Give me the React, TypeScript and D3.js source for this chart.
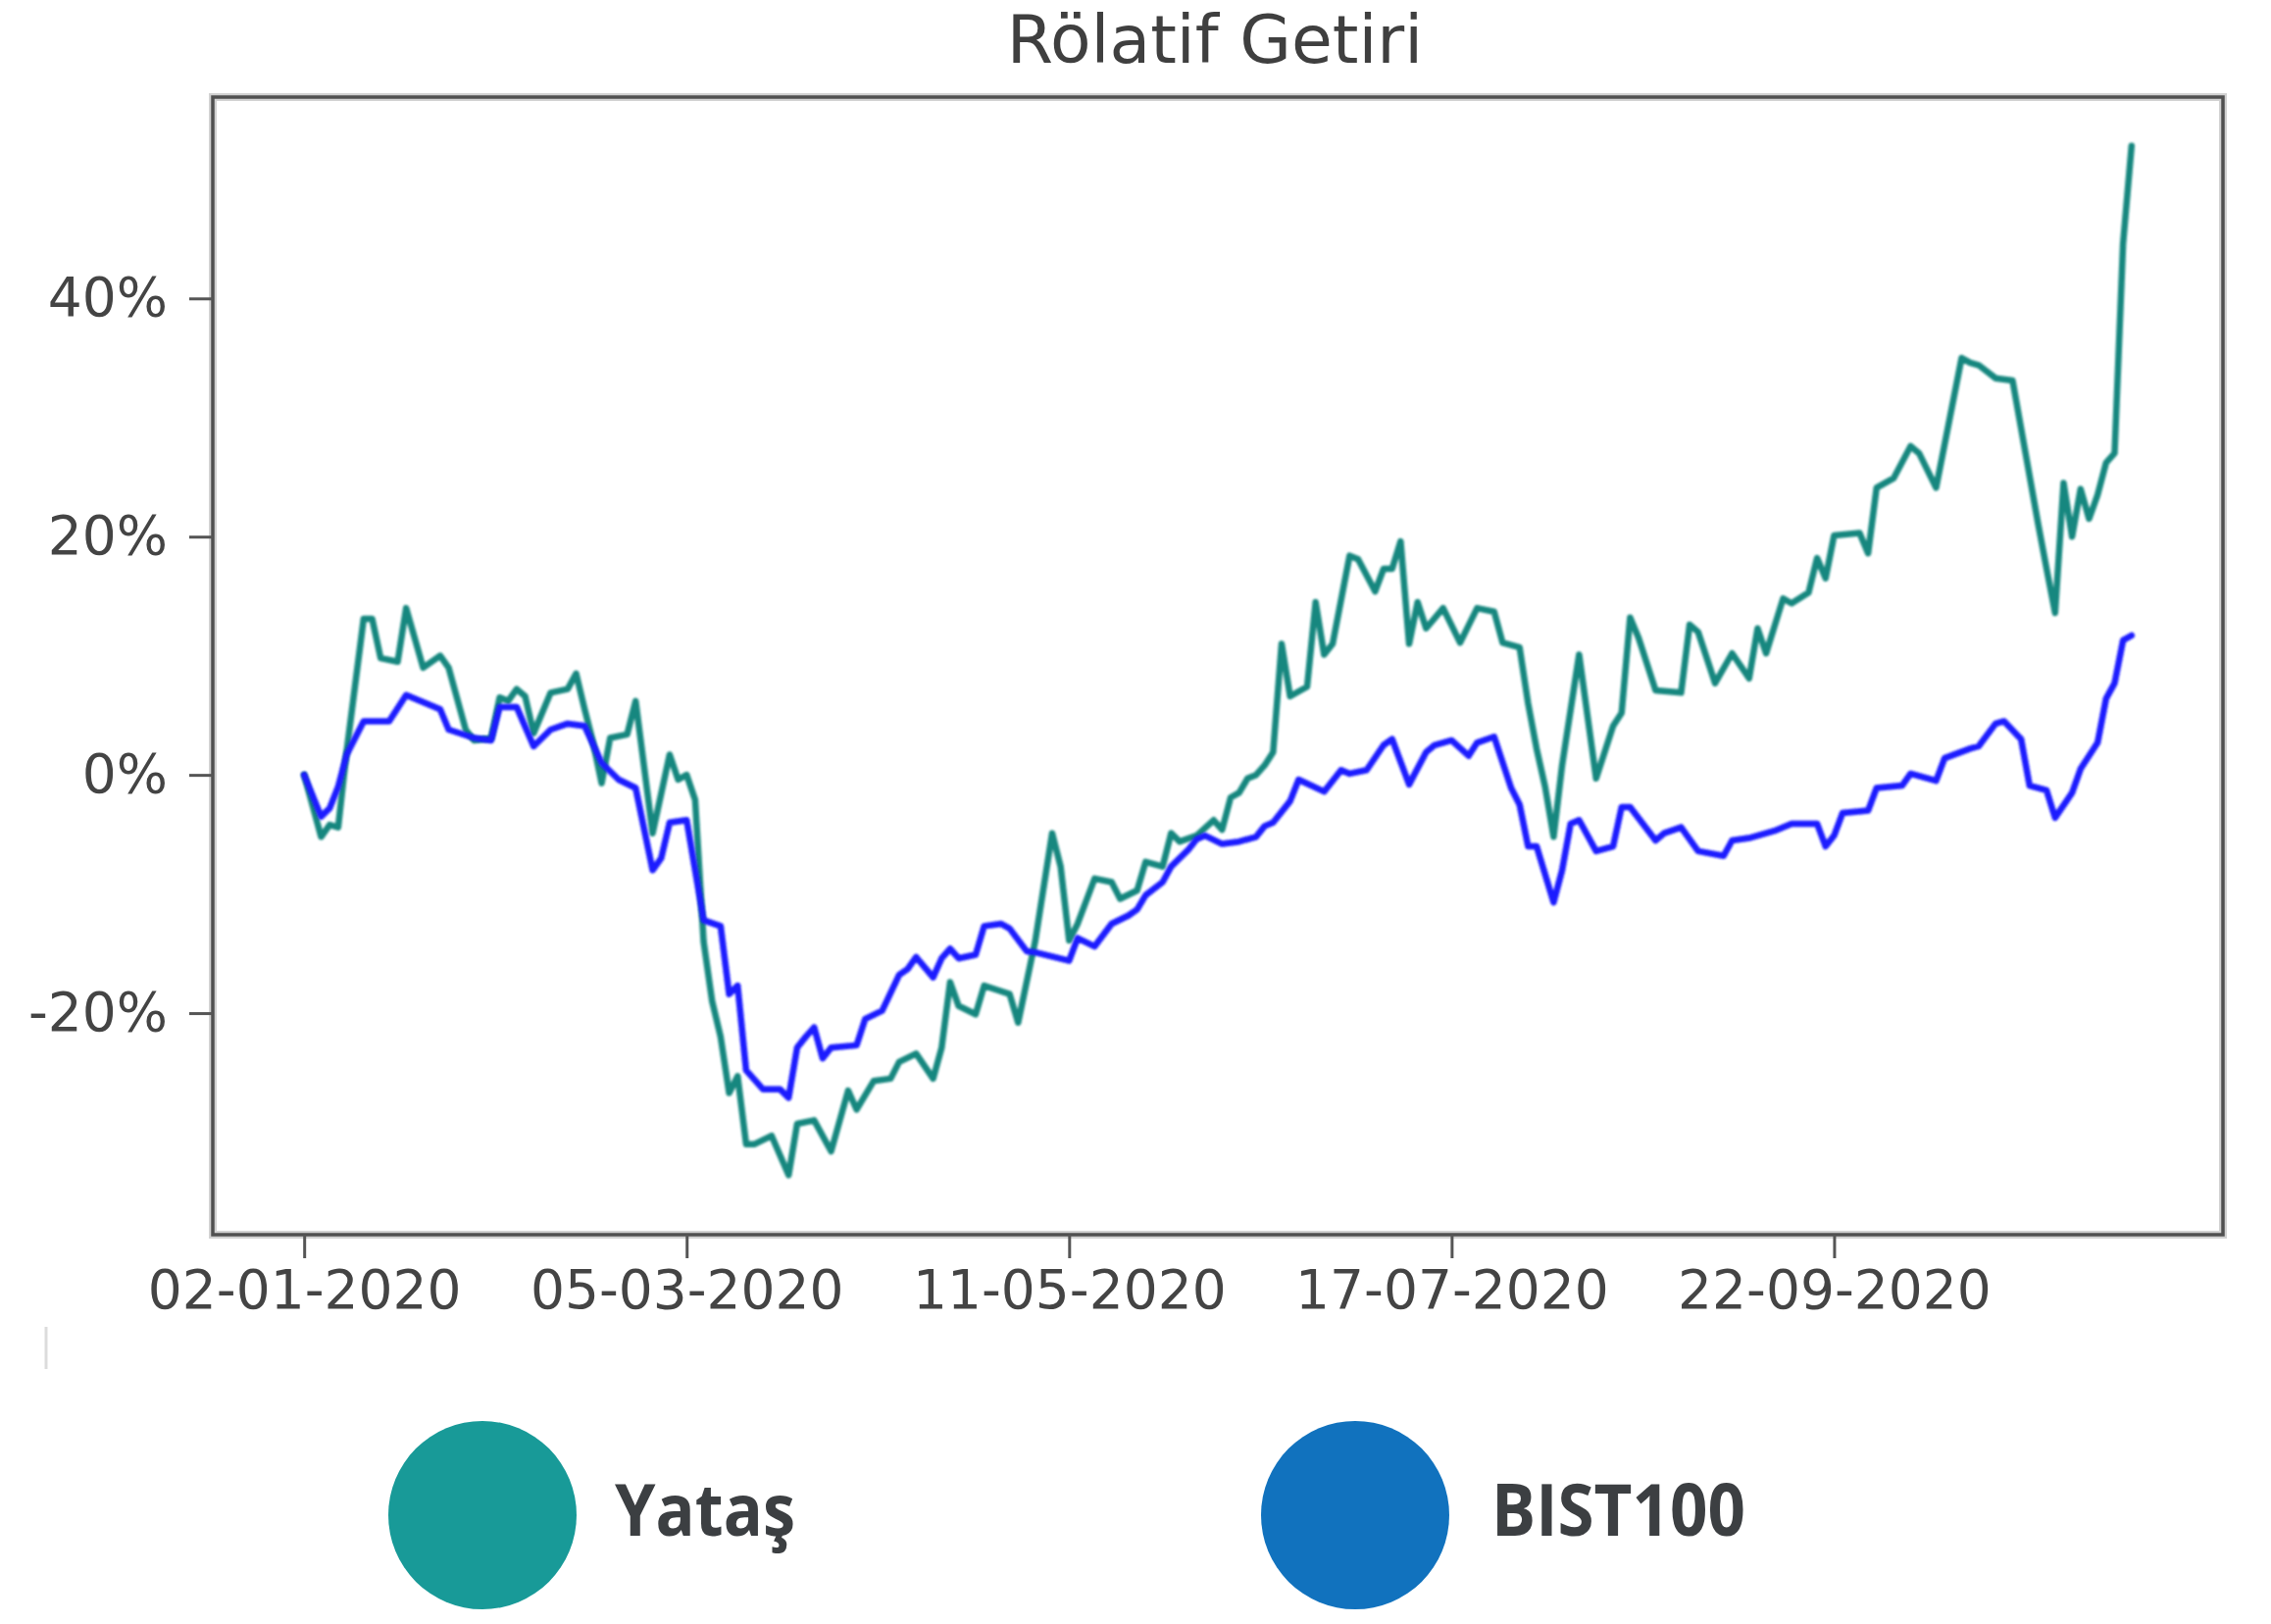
import React, { useRef, useEffect } from 'react';
import { select, scaleLinear, line, axisBottom, axisLeft } from 'd3';

const W = 2316;
const H = 1656;

// trading-day index (0 = 02-01-2020) and relative return in %
const yatasDays = [0, 2, 3, 4, 5, 7, 8, 9, 11, 12, 14, 16, 17, 19, 20, 22, 23, 24, 25, 26, 27, 29, 31, 32, 33, 34, 35, 36, 38, 39, 41, 43, 44, 45, 46, 47, 48, 49, 50, 51, 52, 53, 55, 57, 58, 60, 62, 64, 65, 67, 69, 70, 72, 74, 75, 76, 77, 79, 80, 83, 84, 86, 88, 89, 90, 91, 93, 95, 96, 98, 99, 101, 102, 103, 105, 107, 108, 109, 110, 111, 112, 113, 114, 115, 116, 118, 119, 120, 121, 123, 124, 126, 127, 128, 129, 130, 131, 132, 134, 136, 138, 140, 141, 143, 144, 145, 146, 147, 148, 150, 152, 154, 155, 156, 157, 159, 162, 163, 164, 166, 168, 170, 171, 172, 174, 175, 177, 178, 179, 180, 183, 184, 185, 187, 189, 190, 192, 195, 196, 197, 199, 201, 204, 205, 206, 207, 208, 209, 210, 211, 212, 213, 214, 215];
const yatasValues = [0.0, -5.2, -4.2, -4.4, 2.0, 13.1, 13.1, 9.8, 9.5, 14.0, 9.0, 10.0, 9.0, 3.8, 2.9, 3.1, 6.5, 6.2, 7.2, 6.6, 3.5, 6.9, 7.2, 8.5, 5.5, 2.7, -0.7, 3.1, 3.4, 6.2, -4.9, 1.7, -0.4, 0.0, -2.1, -14.0, -19.0, -22.0, -26.7, -25.3, -31.0, -31.0, -30.3, -33.6, -29.3, -29.0, -31.6, -26.5, -28.1, -25.7, -25.5, -24.1, -23.4, -25.5, -22.9, -17.4, -19.4, -20.1, -17.7, -18.4, -20.8, -14.0, -4.9, -7.7, -13.9, -12.5, -8.7, -9.0, -10.4, -9.7, -7.3, -7.7, -4.9, -5.6, -5.1, -3.8, -4.6, -1.9, -1.5, -0.3, 0.0, 0.8, 1.9, 11.0, 6.6, 7.4, 14.5, 10.1, 11.0, 18.4, 18.1, 15.4, 17.3, 17.3, 19.6, 11.0, 14.5, 12.3, 14.0, 11.1, 14.0, 13.7, 11.1, 10.7, 6.0, 2.2, -1.0, -5.2, 0.8, 10.1, -0.3, 4.1, 5.2, 13.2, 11.5, 7.1, 6.9, 12.6, 12.0, 7.7, 10.2, 8.1, 12.3, 10.2, 14.8, 14.4, 15.3, 18.2, 16.5, 20.1, 20.3, 18.6, 24.1, 24.9, 27.6, 27.0, 24.1, 35.0, 34.6, 34.4, 33.3, 33.1, 21.1, 17.3, 13.6, 24.5, 20.0, 24.0, 21.5, 23.5, 26.2, 27.0, 44.6, 52.8];

const bistDays = [0, 2, 3, 4, 5, 7, 10, 12, 16, 17, 20, 22, 23, 25, 27, 29, 31, 33, 35, 37, 39, 41, 42, 43, 45, 47, 49, 50, 51, 52, 54, 56, 57, 58, 59, 60, 61, 62, 65, 66, 68, 70, 71, 72, 74, 75, 76, 77, 79, 80, 82, 83, 85, 86, 90, 91, 93, 95, 97, 98, 99, 101, 102, 104, 105, 106, 108, 110, 112, 113, 114, 116, 117, 120, 122, 123, 125, 127, 128, 130, 132, 133, 135, 137, 138, 140, 142, 143, 144, 145, 147, 148, 149, 150, 152, 154, 155, 156, 159, 160, 162, 164, 167, 168, 170, 173, 175, 178, 179, 180, 181, 184, 185, 188, 189, 192, 193, 196, 197, 199, 200, 202, 203, 205, 206, 208, 209, 211, 212, 213, 214, 215];
const bistValues = [0.0, -3.5, -2.8, -1.0, 1.7, 4.5, 4.5, 6.7, 5.5, 3.8, 3.1, 2.9, 5.7, 5.7, 2.4, 3.8, 4.3, 4.1, 1.0, -0.4, -1.1, -8.0, -7.0, -4.0, -3.8, -12.2, -12.7, -18.4, -17.7, -24.8, -26.4, -26.4, -27.1, -22.9, -22.0, -21.2, -23.8, -22.9, -22.7, -20.5, -19.8, -16.8, -16.3, -15.3, -17.0, -15.4, -14.6, -15.4, -15.1, -12.7, -12.5, -12.9, -14.8, -14.9, -15.6, -13.7, -14.4, -12.5, -11.8, -11.3, -10.1, -9.0, -7.7, -6.3, -5.4, -5.1, -5.8, -5.6, -5.2, -4.3, -4.0, -2.2, -0.4, -1.4, 0.4, 0.1, 0.4, 2.5, 3.0, -0.8, 1.9, 2.5, 2.9, 1.6, 2.7, 3.2, -1.1, -2.5, -6.0, -6.0, -10.7, -8.0, -4.1, -3.8, -6.4, -6.0, -2.7, -2.7, -5.5, -4.9, -4.4, -6.4, -6.8, -5.5, -5.3, -4.7, -4.1, -4.1, -6.0, -5.1, -3.2, -3.0, -1.1, -0.9, 0.1, -0.5, 1.4, 2.2, 2.4, 4.3, 4.5, 3.0, -0.9, -1.3, -3.6, -1.5, 0.5, 2.7, 6.4, 7.7, 11.3, 11.7];

const tickDays = [0, 45, 90, 135, 180];
const tickLabels = ['02-01-2020', '05-03-2020', '11-05-2020', '17-07-2020', '22-09-2020'];
const yTicks = [-20, 0, 20, 40];

const seriesNames = ['Yataş', 'BIST100'];
const lineColors = ['#16877f', '#1a1aff'];
const legendColors = ['#189a98', '#1172be'];

const App = () => {
  const svgRef = useRef<SVGSVGElement>(null);

  useEffect(() => {
    const svg = select(svgRef.current);
    svg.selectAll('*').remove();

    const left = 217, right = 2267, top = 99, bottom = 1259;
    const x = scaleLinear().domain([-10.75, 225.75]).range([left, right]);
    const y = scaleLinear().domain([-38.6, 56.9]).range([bottom, top]);

    svg.append('rect').attr('width', W).attr('height', H).attr('fill', '#fff');

    const defs = svg.append('defs');
    defs
      .append('filter')
      .attr('id', 'soft')
      .append('feGaussianBlur')
      .attr('stdDeviation', 1.1);

    // title
    svg
      .append('text')
      .attr('x', (left + right) / 2 - 3)
      .attr('y', 64)
      .attr('text-anchor', 'middle')
      .attr('font-family', 'DejaVu Sans')
      .attr('font-size', 68)
      .attr('fill', '#3f3f3f')
      .text('Rölatif Getiri');

    // frame
    svg
      .append('rect')
      .attr('x', left)
      .attr('y', top)
      .attr('width', right - left)
      .attr('height', bottom - top)
      .attr('fill', 'none')
      .attr('stroke', '#d2d2d2')
      .attr('stroke-width', 8);
    svg
      .append('rect')
      .attr('x', left)
      .attr('y', top)
      .attr('width', right - left)
      .attr('height', bottom - top)
      .attr('fill', 'none')
      .attr('stroke', '#505050')
      .attr('stroke-width', 3.5);

    // axes
    const xAxis = axisBottom(x)
      .tickValues(tickDays)
      .tickFormat((d, i) => tickLabels[i])
      .tickSize(24)
      .tickPadding(12);
    const gx = svg.append('g').attr('transform', `translate(0,${bottom})`).call(xAxis);

    const yAxis = axisLeft(y)
      .tickValues(yTicks)
      .tickFormat(d => `${d}%`)
      .tickSize(24)
      .tickPadding(22);
    const gy = svg.append('g').attr('transform', `translate(${left},0)`).call(yAxis);

    [gx, gy].forEach(g => {
      g.select('.domain').remove();
      g.selectAll('.tick line').attr('stroke', '#555').attr('stroke-width', 3);
      g.selectAll('.tick text')
        .attr('font-family', 'DejaVu Sans')
        .attr('font-size', 55)
        .attr('fill', '#444');
    });

    // lines
    const path = line<number>()
      .x(d => x(d[0]))
      .y(d => y(d[1]));
    const series = [
      yatasDays.map((d, i) => [d, yatasValues[i]]),
      bistDays.map((d, i) => [d, bistValues[i]])
    ];
    series.forEach((s, k) => {
      svg
        .append('path')
        .datum(s)
        .attr('d', path as any)
        .attr('fill', 'none')
        .attr('stroke', lineColors[k])
        .attr('stroke-width', 6.5)
        .attr('stroke-linejoin', 'round')
        .attr('stroke-linecap', 'round')
        .attr('filter', 'url(#soft)');
    });

    // stray mark under the axis
    svg
      .append('line')
      .attr('x1', 47)
      .attr('x2', 47)
      .attr('y1', 1353)
      .attr('y2', 1396)
      .attr('stroke', '#dcdcdc')
      .attr('stroke-width', 3);

    // legend
    const legendX = [492, 1382];
    const legendGap = [135, 139];
    const legendW = [184, 259];
    seriesNames.forEach((name, k) => {
      svg
        .append('circle')
        .attr('cx', legendX[k])
        .attr('cy', 1545)
        .attr('r', 96)
        .attr('fill', legendColors[k]);
      svg
        .append('text')
        .attr('x', legendX[k] + legendGap[k])
        .attr('y', 1566)
        .attr('font-family', 'Open Sans')
        .attr('font-weight', 700)
        .attr('font-size', 74)
        .attr('fill', '#3c3f42')
        .attr('textLength', legendW[k])
        .attr('lengthAdjust', 'spacingAndGlyphs')
        .text(name);
    });
  }, []);

  return (
    <svg
      ref={svgRef}
      width={W}
      height={H}
      style={{ position: 'absolute', left: 0, top: 0, display: 'block' }}
    />
  );
};

export default App;
